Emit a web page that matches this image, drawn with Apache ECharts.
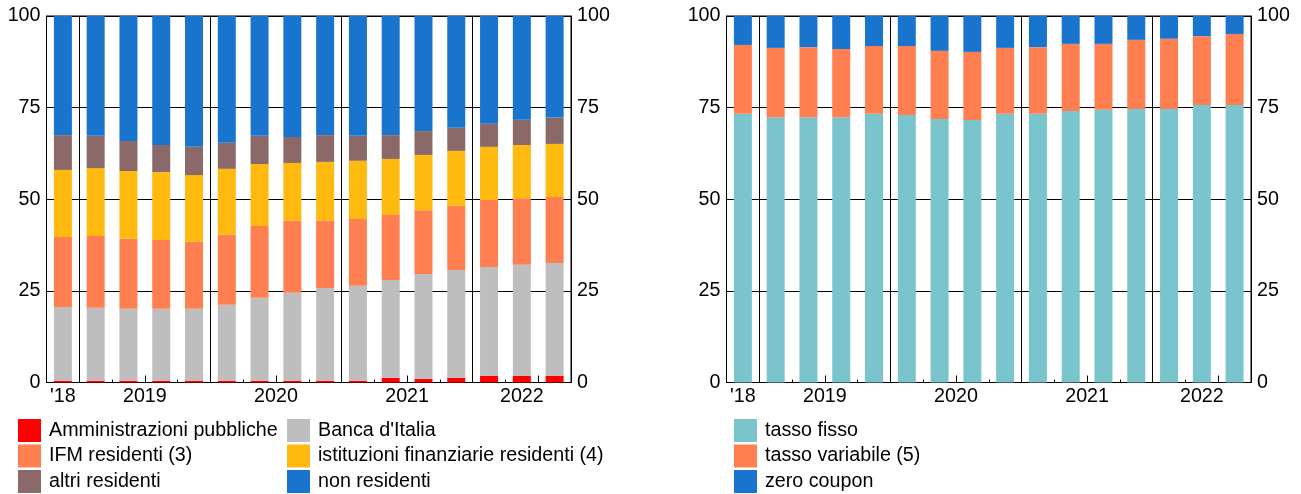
<!DOCTYPE html>
<html>
<head>
<meta charset="utf-8">
<script src="https://cdn.jsdelivr.net/npm/echarts@6/dist/echarts.min.js"></script>
<style>
  html, body { margin: 0; padding: 0; background: #ffffff; }
  #chart { width: 1301px; height: 494px; }
</style>
</head>
<body>
<div id="chart"></div>
<script>
// trimestri (dal 4° trim. 2018 al 3° trim. 2022)
const quarters = [
  '2018 T4',
  '2019 T1', '2019 T2', '2019 T3', '2019 T4',
  '2020 T1', '2020 T2', '2020 T3', '2020 T4',
  '2021 T1', '2021 T2', '2021 T3', '2021 T4',
  '2022 T1', '2022 T2', '2022 T3'
]
const years = ['2018', '2019', '2020', '2021', '2022']
const yearLabels = ["'18", '2019', '2020', '2021', '2022']
const yTicks = [0, 25, 50, 75, 100]

// pannello sinistro: detentori (quote %)
const amministrazioni = [0.5, 0.5, 0.5, 0.5, 0.5, 0.5, 0.5, 0.5, 0.5, 0.5, 1.3, 1.0, 1.3, 1.8, 1.8, 1.8]
const bancaItalia = [20.1, 19.9, 19.6, 19.6, 19.6, 20.7, 22.6, 24.0, 25.3, 25.9, 26.7, 28.6, 29.4, 29.7, 30.3, 30.8]
const ifmResidenti = [19.1, 19.6, 19.1, 18.8, 18.3, 19.1, 19.6, 19.6, 18.3, 18.2, 17.7, 17.4, 17.5, 18.3, 18.2, 18.0]
const istFinanziarie = [18.3, 18.5, 18.5, 18.5, 18.2, 18.0, 16.9, 15.8, 16.1, 15.9, 15.3, 15.1, 15.0, 14.5, 14.5, 14.5]
const altriResidenti = [9.5, 8.8, 8.2, 7.4, 7.7, 7.1, 7.7, 7.1, 7.3, 6.8, 6.5, 6.5, 6.3, 6.3, 6.9, 7.2]
const nonResidenti = [32.5, 32.7, 34.1, 35.2, 35.7, 34.6, 32.7, 33.0, 32.5, 32.7, 32.5, 31.4, 30.5, 29.4, 28.3, 27.7]

// pannello destro: tipo di tasso (quote %)
const tassoFisso = [73.3, 72.4, 72.4, 72.4, 73.3, 73.0, 71.9, 71.6, 73.3, 73.3, 74.1, 74.4, 74.6, 74.6, 75.7, 75.7]
const tassoVariabile = [18.8, 18.9, 19.1, 18.6, 18.5, 18.8, 18.6, 18.6, 18.0, 18.2, 18.3, 18.0, 18.9, 19.2, 18.8, 19.4]
const zeroCoupon = [7.9, 8.7, 8.5, 9.0, 8.2, 8.2, 9.5, 9.8, 8.7, 8.5, 7.6, 7.6, 6.5, 6.2, 5.5, 4.9]

const FONT = "'Liberation Sans', Arial, sans-serif"
const FS = 19.7

// posizioni a mezzo trimestre: etichette anno, linee di inizio anno, tacche di metà anno
const halfSlots = Array.from({ length: quarters.length * 2 + 1 }, (v, j) => String(j))
const labelAt = {}
const lineSlots = []
const tickSlots = []
years.forEach((y, k) => {
  const idx = quarters.map((q, i) => (q.startsWith(y) ? i : -1)).filter((i) => i >= 0)
  const first = idx[0]
  const firstQ = Number(quarters[first].slice(-1))
  labelAt[first * 2 + idx.length] = yearLabels[k]
  if (firstQ === 1 && first > 0) lineSlots.push(first * 2)
  const mid = (first - (firstQ - 1) + 2) * 2
  if (mid > 0 && mid < halfSlots.length - 1) tickSlots.push(mid)
})

const grids = [
  { left: 46.5, right: 730, top: 16, bottom: 111.5 },
  { left: 726.5, right: 50, top: 16, bottom: 111.5 }
]

const makeXAxes = (g) => [
  { type: 'category', gridIndex: g, data: quarters, position: 'bottom', show: false },
  {
    type: 'category',
    gridIndex: g,
    data: halfSlots,
    boundaryGap: false,
    position: 'bottom',
    axisLine: { show: true, onZero: false, lineStyle: { color: '#000', width: 1 } },
    axisTick: {
      show: true,
      inside: true,
      length: 3,
      interval: (i) => i % 2 === 0,
      lineStyle: { color: '#000' }
    },
    axisLabel: {
      interval: (i) => labelAt[i] !== undefined,
      formatter: (v) => labelAt[v] || '',
      color: '#000',
      fontFamily: FONT,
      fontSize: FS,
      margin: 4
    },
    splitLine: { show: false }
  },
  {
    type: 'category',
    gridIndex: g,
    data: halfSlots,
    boundaryGap: false,
    position: 'bottom',
    axisLine: { show: false },
    axisTick: {
      show: true,
      inside: true,
      length: 7,
      interval: (i) => tickSlots.includes(i),
      lineStyle: { color: '#000' }
    },
    axisLabel: { show: false },
    splitLine: {
      show: true,
      interval: (i) => lineSlots.includes(i),
      lineStyle: { color: '#000', width: 1 }
    }
  }
]

const makeYAxes = (g) => ['left', 'right'].map((pos) => ({
  type: 'value',
  gridIndex: g,
  position: pos,
  min: yTicks[0],
  max: yTicks[yTicks.length - 1],
  interval: yTicks[1] - yTicks[0],
  axisLine: { show: true, lineStyle: { color: '#000' } },
  axisTick: { show: false },
  axisLabel: { color: '#000', fontFamily: FONT, fontSize: FS, margin: 6 },
  splitLine: { show: pos === 'left', lineStyle: { color: '#000', width: 1 } }
}))

const bar = (name, data, color, g) => ({
  name: name,
  type: 'bar',
  stack: 'tot' + g,
  xAxisIndex: g * 3,
  yAxisIndex: g * 2,
  barWidth: 18,
  data: data,
  itemStyle: { color: color },
  emphasis: { disabled: true },
  animation: false
})

const legend = (left, names) => ({
  orient: 'vertical',
  left: left,
  top: 419,
  padding: 0,
  itemWidth: 23,
  itemHeight: 23,
  itemGap: 2.5,
  icon: 'rect',
  selectedMode: false,
  textStyle: { color: '#000', fontFamily: FONT, fontSize: FS, padding: [0, 0, 0, 3] },
  data: names
})

const myChart = echarts.init(document.getElementById('chart'))
const option = {
  animation: false,
  grid: grids.map((g) => ({ ...g, show: true, borderColor: '#000', borderWidth: 1 })),
  xAxis: [...makeXAxes(0), ...makeXAxes(1)],
  yAxis: [...makeYAxes(0), ...makeYAxes(1)],
  legend: [
    legend(18, ['Amministrazioni pubbliche', 'IFM residenti (3)', 'altri residenti']),
    legend(287, ["Banca d'Italia", 'istituzioni finanziarie residenti (4)', 'non residenti']),
    legend(734, ['tasso fisso', 'tasso variabile (5)', 'zero coupon'])
  ],
  series: [
    bar('Amministrazioni pubbliche', amministrazioni, '#FF0000', 0),
    bar("Banca d'Italia", bancaItalia, '#BEBEBE', 0),
    bar('IFM residenti (3)', ifmResidenti, '#FF7F50', 0),
    bar('istituzioni finanziarie residenti (4)', istFinanziarie, '#FFB90F', 0),
    bar('altri residenti', altriResidenti, '#8B6969', 0),
    bar('non residenti', nonResidenti, '#1874CD', 0),
    bar('tasso fisso', tassoFisso, '#7AC5CD', 1),
    bar('tasso variabile (5)', tassoVariabile, '#FF7F50', 1),
    bar('zero coupon', zeroCoupon, '#1874CD', 1)
  ]
}
myChart.setOption(option)
</script>
</body>
</html>
